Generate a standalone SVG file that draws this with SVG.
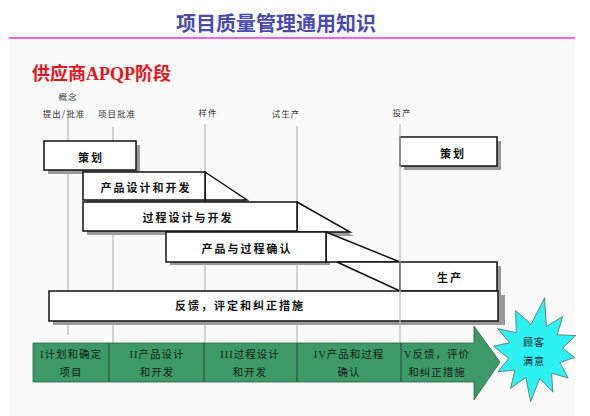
<svg xmlns="http://www.w3.org/2000/svg" width="590" height="416" viewBox="0 0 590 416">
<defs>
<style>
.title{font-family:"Noto Sans CJK SC","Liberation Sans",sans-serif;font-size:20px;fill:#4a4aae;font-weight:700}
.sub{font-family:"Liberation Serif","Noto Sans CJK SC",serif;font-size:18px;fill:#e8141a;font-weight:700}
.ms{font-family:"Noto Sans CJK SC",sans-serif;font-size:8.5px;fill:#333;letter-spacing:1px;text-anchor:middle}
.vl{stroke:#b8b8b8;stroke-width:1.2;fill:none}
.box{fill:#fff;stroke:#111;stroke-width:1.5}
.sh{fill:#9a9a9a}
.bt{font-family:"Noto Sans CJK SC",sans-serif;font-size:11px;font-weight:700;fill:#111;text-anchor:middle;letter-spacing:2px}
.at{font-family:"Liberation Serif","Noto Sans CJK SC",serif;font-size:10.5px;fill:#142214;text-anchor:middle;letter-spacing:1px}
.st{font-family:"Noto Sans CJK SC",sans-serif;font-size:10px;fill:#223;text-anchor:middle;letter-spacing:1px}
</style>
</defs>
<rect x="9" y="39" width="566" height="377" fill="#fafafa"/>
<text class="title" x="276" y="31" text-anchor="middle">项目质量管理通用知识</text>
<line x1="9" y1="38" x2="575" y2="38" stroke="#f064f0" stroke-width="2.2"/>
<text class="sub" x="32" y="80">供应商APQP阶段</text>

<g id="milestones">
<text class="ms" x="68" y="100">概念</text>
<text class="ms" x="64" y="117">提出/批准</text>
<text class="ms" x="117" y="117">项目批准</text>
<text class="ms" x="208" y="116">样件</text>
<text class="ms" x="286" y="117">试生产</text>
<text class="ms" x="402" y="116">投产</text>
</g>

<g id="connectors">
<line class="vl" x1="68" y1="118" x2="68" y2="335"/>
<line class="vl" x1="113" y1="127" x2="113" y2="343"/>
<line class="vl" x1="205" y1="124" x2="205" y2="343"/>
<line class="vl" x1="297" y1="126" x2="297" y2="343"/>
</g>

<g id="plan1">
<rect class="sh" x="48" y="145" width="92" height="29"/>
<rect class="box" x="44" y="141" width="92" height="29"/>
<text class="bt" x="91" y="162">策划</text>
</g>

<g id="plan2">
<rect class="sh" x="404" y="141" width="97" height="29"/>
<rect class="box" x="400" y="137" width="97" height="29"/>
<text class="bt" x="453" y="158">策划</text>
</g>

<g id="product-design">
<rect class="sh" x="87" y="176" width="122" height="28"/>
<polygon class="sh" points="209,176 251,204 209,204"/>
<polygon class="box" points="205,172 247,200 205,200"/>
<rect class="box" x="83" y="172" width="122" height="28"/>
<text class="bt" x="146" y="192">产品设计和开发</text>
</g>

<g id="process-design">
<rect class="sh" x="87" y="206" width="214" height="29"/>
<polygon class="sh" points="301,206 354,236 301,236"/>
<polygon class="box" points="297,202 350,232 297,232"/>
<rect class="box" x="83" y="202" width="214" height="29"/>
<text class="bt" x="188" y="222">过程设计与开发</text>
</g>

<g id="validation">
<rect class="sh" x="170" y="236" width="160" height="29"/>
<polygon class="box" points="326,232 400,262 326,262"/>
<rect class="box" x="166" y="232" width="160" height="30"/>
<text class="bt" x="247" y="253">产品与过程确认</text>
</g>

<g id="production">
<rect class="sh" x="404" y="266" width="97" height="29"/>
<polygon class="box" points="337,262 400,262 400,291"/>
<rect class="box" x="400" y="262" width="97" height="29"/>
<text class="bt" x="450" y="282">生产</text>
</g>

<g id="feedback">
<rect class="sh" x="53" y="295" width="452" height="30"/>
<rect class="box" x="49" y="291" width="449" height="30"/>
<text class="bt" x="240" y="310">反馈，评定和纠正措施</text>
</g>

<line class="vl" x1="400" y1="124" x2="400" y2="343"/>

<g id="phase-arrow">
<polygon points="33,343 474,343 474,326 500,362 474,400 474,382 33,382" fill="#3d9a68" stroke="#2f5f45" stroke-width="0.8"/>
<line x1="109" y1="343" x2="109" y2="382" stroke="#2a4a38" stroke-width="1"/>
<line x1="204" y1="343" x2="204" y2="382" stroke="#2a4a38" stroke-width="1"/>
<line x1="297" y1="343" x2="297" y2="382" stroke="#2a4a38" stroke-width="1"/>
<line x1="401" y1="343" x2="401" y2="382" stroke="#2a4a38" stroke-width="1"/>
<text class="at" x="71" y="358">I计划和确定</text>
<text class="at" x="71" y="376">项目</text>
<text class="at" x="157" y="358">II产品设计</text>
<text class="at" x="157" y="376">和开发</text>
<text class="at" x="250" y="358">III过程设计</text>
<text class="at" x="250" y="376">和开发</text>
<text class="at" x="349" y="358">IV产品和过程</text>
<text class="at" x="349" y="376">确认</text>
<text class="at" x="437" y="358">V反馈，评价</text>
<text class="at" x="437" y="376">和纠正措施</text>
</g>

<g id="customer-satisfaction">
<polygon points="544.6,297.8 546.4,326.4 562.7,316.5 557.1,334.8 575.8,335.5 562.7,348.1 574.6,357.6 559.9,362.6 568.1,377.9 551.6,373.3 552.9,392.2 539.7,378.6 530.6,401.8 525.8,377.4 510.4,388.5 514.9,370.1 497.9,371.7 508.8,358.5 493.4,346.2 509.6,342.8 497.7,328.7 516.2,332.6 515.5,310.3 531.1,324.3" fill="#2ef2f2" stroke="#5a6a6a" stroke-width="0.8"/>
<text class="st" x="534" y="346">顾客</text>
<text class="st" x="534" y="365">满意</text>
</g>
</svg>
